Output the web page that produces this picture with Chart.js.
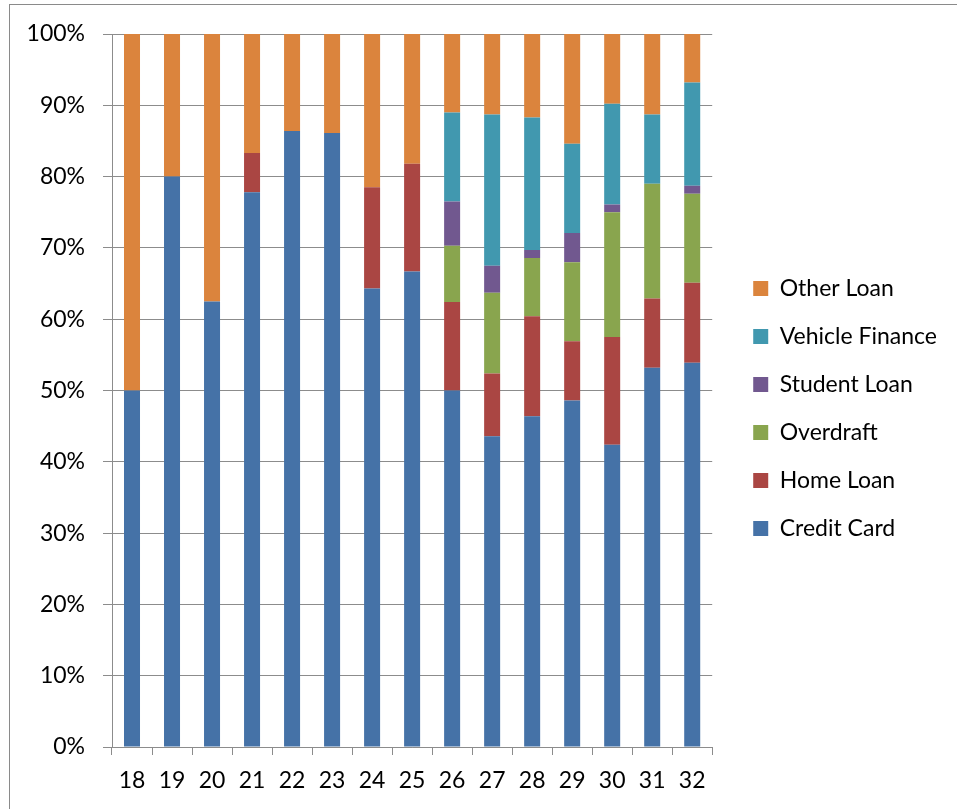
<!DOCTYPE html>
<html>
<head>
<meta charset="utf-8">
<script src="https://cdn.jsdelivr.net/npm/chart.js@4.4.1/dist/chart.umd.min.js"></script>
<style>
  body { margin: 0; background: #fff; overflow: hidden; }
  #moldura { position: absolute; left: 9px; top: 4px; width: 1100px; height: 1000px; border: 1px solid #8a8a8a; }
  #graficoDividas { position: absolute; left: 0; top: 0; }
</style>
</head>
<body>
<div id="moldura"></div>
<canvas id="graficoDividas" width="957" height="809"></canvas>
<script>
const idades = ["18", "19", "20", "21", "22", "23", "24", "25", "26", "27", "28", "29", "30", "31", "32"];

// percentual de cada tipo de divida por idade
const cartaoCredito = [50, 80, 62.5, 77.8, 86.4, 86.1, 64.3, 66.7, 50, 43.6, 46.4, 48.6, 42.4, 53.2, 53.9];
const financiamentoCasa = [0, 0, 0, 5.5, 0, 0, 14.2, 15.1, 12.4, 8.8, 14.0, 8.3, 15.1, 9.7, 11.2];
const chequeEspecial = [0, 0, 0, 0, 0, 0, 0, 0, 7.9, 11.3, 8.2, 11.1, 17.5, 16.1, 12.5];
const creditoEstudantil = [0, 0, 0, 0, 0, 0, 0, 0, 6.2, 3.8, 1.1, 4.1, 1.1, 0, 1.1];
const financiamentoVeiculo = [0, 0, 0, 0, 0, 0, 0, 0, 12.5, 21.2, 18.6, 12.5, 14.1, 9.7, 14.5];
const outrosEmprestimos = [50, 20, 37.5, 16.7, 13.6, 13.9, 21.5, 18.2, 11.0, 11.3, 11.7, 15.4, 9.8, 11.3, 6.8];

const marcasY = [0, 10, 20, 30, 40, 50, 60, 70, 80, 90, 100];

const fonte = "Lato, 'Open Sans', sans-serif";
const corGrade = "#8c8c8c";

function serie(nome, dados, cor) {
  return {
    label: nome,
    data: dados.map(v => v === 0 ? null : v),
    backgroundColor: cor,
    borderWidth: 0,
    barPercentage: 0.4,
    categoryPercentage: 1
  };
}

// afasta a legenda um pouco do grafico e sobe um pouco os itens
const ajusteLegenda = {
  id: 'ajusteLegenda',
  afterLayout(chart) {
    const legenda = chart.legend;
    legenda.left += 16;
    legenda.right += 16;
    legenda.top -= 5;
    legenda.bottom -= 5;
  }
};

new Chart(graficoDividas, {
  type: 'bar',
  data: {
    labels: idades,
    datasets: [
      serie('Credit Card', cartaoCredito, '#4572a7'),
      serie('Home Loan', financiamentoCasa, '#aa4643'),
      serie('Overdraft', chequeEspecial, '#89a54e'),
      serie('Student Loan', creditoEstudantil, '#71588f'),
      serie('Vehicle Finance', financiamentoVeiculo, '#4198af'),
      serie('Other Loan', outrosEmprestimos, '#db843d')
    ]
  },
  plugins: [ajusteLegenda],
  options: {
    responsive: false,
    animation: false,
    layout: {
      padding: { top: 34, bottom: 16, left: 0, right: 26 }
    },
    plugins: {
      tooltip: { enabled: false },
      legend: {
        position: 'right',
        reverse: true,
        labels: {
          boxWidth: 15,
          boxHeight: 15,
          padding: 25,
          color: '#000',
          font: { family: fonte, size: 23 }
        }
      }
    },
    scales: {
      x: {
        stacked: true,
        afterFit: escala => {
          escala.height = 46;
        },
        grid: {
          offset: true,
          drawOnChartArea: false,
          drawTicks: true,
          tickLength: 8,
          color: corGrade
        },
        border: { color: corGrade },
        ticks: {
          color: '#000',
          padding: 12,
          maxRotation: 0,
          font: { family: fonte, size: 23 }
        }
      },
      y: {
        stacked: true,
        min: 0,
        max: 100,
        afterBuildTicks: escala => {
          escala.ticks = marcasY.map(v => ({ value: v }));
        },
        afterFit: escala => {
          escala.width = 112;
        },
        grid: {
          color: corGrade,
          tickLength: 9
        },
        border: { color: corGrade },
        ticks: {
          color: '#000',
          padding: 18,
          font: { family: fonte, size: 23 },
          callback: v => v + '%'
        }
      }
    }
  }
});
</script>
</body>
</html>
